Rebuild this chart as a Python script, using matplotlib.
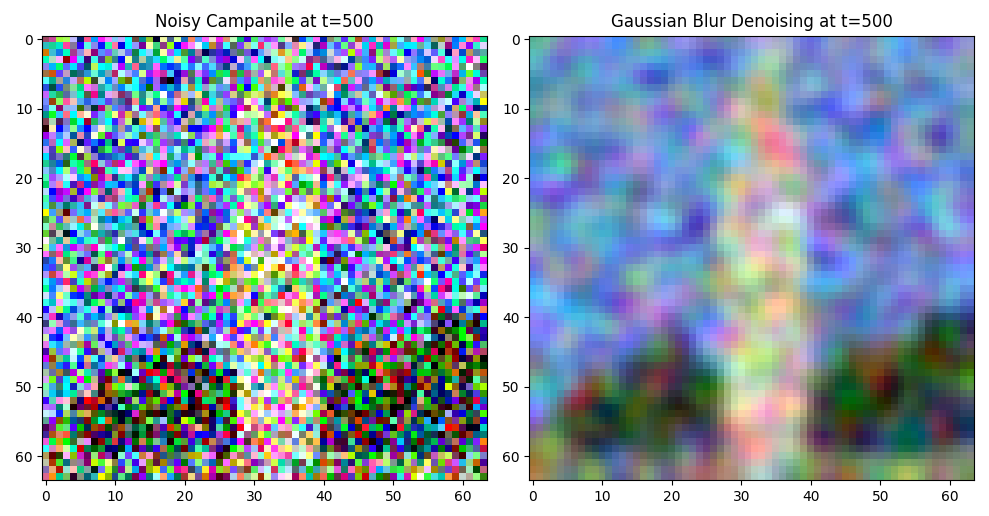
"""Noisy campanile at t=500 next to its Gaussian-blur denoised version."""
import matplotlib
matplotlib.use('Agg')
import matplotlib.pyplot as plt
import numpy as np

# coarse scene map of the 64x64 campanile image, one char per 4x4 block
# S sky, T tower, P spire, G trees, D ground, L lawn
scene_map = [
    "SSSSSSSSSSSSSSSS",
    "SSSSSSSSPSSSSSSS",
    "SSSSSSSTTSSSSSSS",
    "SSSSSSSTTTSSSSSS",
    "SSSSSSSTTTSSSSSS",
    "SSSSSSSTTTSSSSSS",
    "SSSSSSSTTTSSSSSS",
    "SSSSSSSTTTSSSSSS",
    "SSSSSSSTTTSSSSSS",
    "SSSSSSSTTTSSSSSS",
    "SSSSSSSTTTSSSSGG",
    "SSSSGGSTTTSGGGGG",
    "SSGGGGGTTTGGGGGG",
    "SGGGGGGTTTGGGGGG",
    "LGGGGGGTTTGGGGGG",
    "DDDDDDDTTDDDDDDD",
]
palette_keys = ['S', 'T', 'P', 'G', 'D', 'L']
palette_rgb = [
    (0.40, 0.62, 1.00),
    (1.00, 0.90, 0.80),
    (0.95, 0.80, 0.70),
    (0.05, 0.15, 0.05),
    (0.60, 0.45, 0.40),
    (0.60, 0.70, 0.25),
]

timestep = 500
alpha_bar = 0.36          # signal share kept at this step (tuned to look)
titles = ['Noisy Campanile at t=500', 'Gaussian Blur Denoising at t=500']

# build clean image from the map
lut = dict(zip(palette_keys, palette_rgb))
coarse = np.array([[lut[c] for c in row] for row in scene_map])
clean = np.kron(coarse, np.ones((4, 4, 1)))

# forward diffusion step (seeded noise, values in [-1, 1])
rng = np.random.default_rng(180)
x0 = clean * 2 - 1
eps = rng.standard_normal(x0.shape)
xt = np.sqrt(alpha_bar) * x0 + np.sqrt(1 - alpha_bar) * eps


def gauss_blur(img, ksize=5, sigma=1.5):
    r = ksize // 2
    k = np.exp(-0.5 * (np.arange(-r, r + 1) / sigma) ** 2)
    k /= k.sum()
    out = np.pad(img, ((r, r), (0, 0), (0, 0)), mode='reflect')
    out = sum(k[i] * out[i:i + img.shape[0]] for i in range(ksize))
    out = np.pad(out, ((0, 0), (r, r), (0, 0)), mode='reflect')
    out = sum(k[i] * out[:, i:i + img.shape[1]] for i in range(ksize))
    return out


noisy_disp = np.clip((xt + 1) / 2, 0, 1)
blur_disp = np.clip((gauss_blur(xt) + 1) / 2, 0, 1)

fig, axes = plt.subplots(1, 2, figsize=(9.89, 5.16), dpi=100)
for ax, img, title in zip(axes, [noisy_disp, blur_disp], titles):
    ax.imshow(img)
    ax.set_title(title)
    ax.set_xticks(range(0, 64, 10))
    ax.set_yticks(range(0, 64, 10))

plt.tight_layout()
plt.savefig('out.png', dpi=100, facecolor='white')
